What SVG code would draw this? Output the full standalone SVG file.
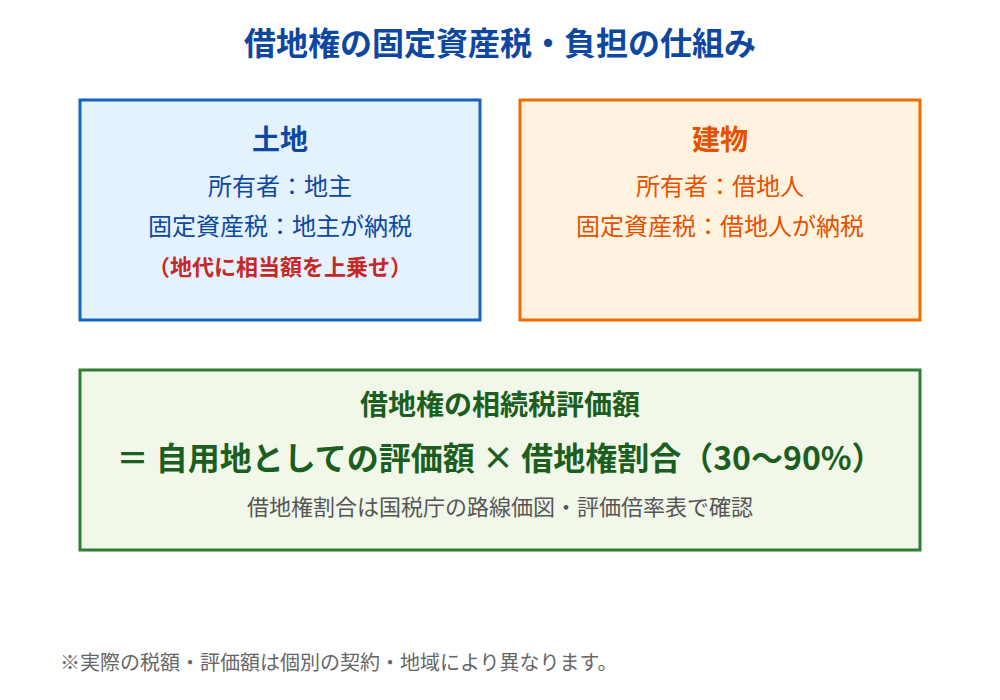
<svg xmlns="http://www.w3.org/2000/svg" width="1000" height="700" viewBox="0 0 1000 700">
<style>
text{font-family:"Noto Sans CJK JP","Noto Sans",sans-serif;text-anchor:middle}
.b{font-weight:bold}
</style>
<rect width="1000" height="700" fill="#fff"/>
<text x="500" y="55" class="b" font-size="32" fill="#0d47a1">借地権の固定資産税・負担の仕組み</text>
<g id="land">
<rect x="80" y="100" width="400" height="220" fill="#e3f2fd" stroke="#1565c0" stroke-width="3"/>
<text x="280" y="150" class="b" font-size="28" fill="#0d47a1">土地</text>
<text x="280" y="195" font-size="24" fill="#0d47a1">所有者：地主</text>
<text x="280" y="235" font-size="24" fill="#0d47a1">固定資産税：地主が納税</text>
<text x="280" y="275" class="b" font-size="22" fill="#c62828">（地代に相当額を上乗せ）</text>
</g>
<g id="building">
<rect x="520" y="100" width="400" height="220" fill="#fff3e0" stroke="#ef6c00" stroke-width="3"/>
<text x="720" y="150" class="b" font-size="28" fill="#e65100">建物</text>
<text x="720" y="195" font-size="24" fill="#e65100">所有者：借地人</text>
<text x="720" y="235" font-size="24" fill="#e65100">固定資産税：借地人が納税</text>
</g>
<g id="valuation">
<rect x="80" y="370" width="840" height="180" fill="#f1f8e9" stroke="#2e7d32" stroke-width="3"/>
<text x="500" y="415" class="b" font-size="28" fill="#1b5e20">借地権の相続税評価額</text>
<text x="500" y="470" class="b" font-size="32" fill="#1b5e20">＝ 自用地としての評価額 × 借地権割合（30〜90%）</text>
<text x="500" y="515" font-size="22" fill="#555">借地権割合は国税庁の路線価図・評価倍率表で確認</text>
</g>
<g id="connectors"></g>
<text x="60" y="670" font-size="20" fill="#666" style="text-anchor:start">※実際の税額・評価額は個別の契約・地域により異なります。</text>
</svg>
